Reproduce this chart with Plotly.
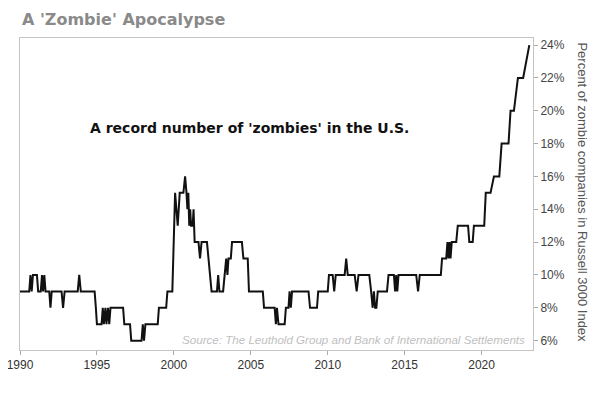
import plotly.graph_objects as go

# Decimal-year positions and percent of zombie companies
years = [
    1990.0, 1990.6, 1990.68, 1990.76, 1990.84, 1991.1, 1991.18, 1991.35, 1991.43, 1991.5,
    1991.58, 1991.66, 1991.9, 1991.98, 1992.06, 1992.7, 1992.8, 1992.9, 1993.75, 1993.85,
    1993.95, 1994.85, 1994.93, 1995.0, 1995.3, 1995.38, 1995.45, 1995.55, 1995.62, 1995.72,
    1995.8, 1995.88, 1996.7, 1996.78, 1997.15, 1997.23, 1997.9, 1997.98, 1998.06, 1998.15,
    1998.95, 1999.03, 1999.5, 1999.58, 1999.9, 2000.08, 2000.25, 2000.38, 2000.62, 2000.73,
    2000.82, 2000.88, 2000.94, 2001.0, 2001.06, 2001.12, 2001.22, 2001.28, 2001.35, 2001.6,
    2001.7, 2001.8, 2002.15, 2002.25, 2002.35, 2002.45, 2002.8, 2002.88, 2002.96, 2003.2,
    2003.3, 2003.4, 2003.48, 2003.55, 2003.7, 2003.78, 2004.42, 2004.52, 2004.8, 2004.88,
    2005.78, 2005.86, 2006.55, 2006.63, 2006.7, 2006.8, 2007.2, 2007.28, 2007.45, 2007.52,
    2007.6, 2007.68, 2008.75, 2008.85, 2009.3, 2009.38, 2010.0, 2010.08, 2010.32, 2010.42,
    2010.52, 2011.1, 2011.2, 2011.3, 2011.75, 2011.88, 2012.0, 2012.7, 2012.82, 2012.92,
    2013.0, 2013.08, 2013.16, 2013.25, 2013.85, 2013.95, 2014.3, 2014.38, 2014.45, 2014.52,
    2014.6, 2015.75, 2015.87, 2015.98, 2017.35, 2017.43, 2017.7, 2017.78, 2017.85, 2017.92,
    2017.98, 2018.06, 2018.35, 2018.45, 2019.12, 2019.2, 2019.42, 2019.5, 2020.17, 2020.27,
    2020.58, 2020.8, 2021.15, 2021.3, 2021.75, 2021.88, 2022.1, 2022.36, 2022.7, 2022.9,
    2023.1,
]
pct = [
    9, 9, 10, 9, 10, 10, 9, 9, 10, 9,
    10, 9, 9, 8, 9, 9, 8, 9, 9, 10,
    9, 9, 8, 7, 7, 8, 7, 8, 7, 8,
    7, 8, 8, 7, 7, 6, 6, 7, 6, 7,
    7, 8, 8, 9, 9, 15, 13, 15, 15, 16,
    15, 14, 15, 13, 14, 13, 13, 14, 12, 12,
    11, 12, 12, 11, 10, 9, 9, 10, 9, 9,
    10, 11, 10, 11, 11, 12, 12, 11, 11, 9,
    9, 8, 8, 7, 8, 7, 7, 8, 8, 9,
    8, 9, 9, 8, 8, 9, 9, 10, 10, 9,
    10, 10, 11, 10, 10, 9, 10, 10, 9, 8,
    9, 8, 8, 9, 9, 10, 10, 9, 10, 9,
    10, 10, 9, 10, 10, 11, 11, 12, 11, 12,
    11, 12, 12, 13, 13, 12, 12, 13, 13, 15,
    15, 16, 16, 18, 18, 20, 20, 22, 22, 23,
    24,
]

x_ticks = [1990, 1995, 2000, 2005, 2010, 2015, 2020]
y_ticks = [6, 8, 10, 12, 14, 16, 18, 20, 22, 24]

title_text = "A 'Zombie' Apocalypse"
note_text = "A record number of 'zombies' in the U.S."
source_text = "Source: The Leuthold Group and Bank of International Settlements"
y_title = "Percent of zombie companies in Russell 3000 Index"

fig = go.Figure()
fig.add_trace(go.Scatter(
    x=years, y=pct, mode="lines",
    line=dict(color="#111111", width=2),
    hoverinfo="skip", showlegend=False,
))

# The page body adds an 8px offset, so the figure is 592x391 to fill the window.
fig.update_layout(
    width=592, height=391,
    margin=dict(l=12, r=67, t=30, b=49, autoexpand=False),
    paper_bgcolor="white", plot_bgcolor="white",
    font=dict(family="Liberation Sans, Arial, sans-serif", color="#333"),
    xaxis=dict(
        range=[1990, 2023.34], tickvals=x_ticks, ticktext=[str(v) for v in x_ticks],
        showgrid=False, zeroline=False, automargin=False,
        ticklabeloverflow="allow",
        showline=True, mirror=True, linecolor="#c4c4c4", linewidth=1,
        ticks="outside", ticklen=4, tickcolor="#aaaaaa",
        tickfont=dict(size=12, color="#333333"),
    ),
    yaxis=dict(
        side="right", range=[5.43, 24.43], tickvals=y_ticks,
        ticktext=[f"{v}%" for v in y_ticks],
        showgrid=False, zeroline=False, automargin=False,
        showline=True, mirror=True, linecolor="#c4c4c4", linewidth=1,
        ticks="outside", ticklen=4, tickcolor="#aaaaaa",
        tickfont=dict(size=12, color="#444444"),
    ),
    annotations=[
        dict(text=f"<b>{title_text}</b>", xref="paper", yref="paper",
             x=0.0, y=1.058, xanchor="left", yanchor="middle", showarrow=False,
             font=dict(family="DejaVu Sans, Verdana, sans-serif", size=16, color="#8a8a8a")),
        dict(text=f"<b>{note_text}</b>", xref="paper", yref="paper",
             x=0.448, y=0.71, xanchor="center", yanchor="middle", showarrow=False,
             font=dict(family="DejaVu Sans, Verdana, sans-serif", size=14, color="#111111")),
        dict(text=f"<i>{source_text}</i>", xref="paper", yref="paper",
             x=0.988, y=0.035, xanchor="right", yanchor="middle", showarrow=False,
             font=dict(family="Liberation Sans, Arial, sans-serif", size=11.6, color="#c0c0c0")),
        dict(text=y_title, xref="paper", yref="paper",
             x=1.0975, y=0.505, xanchor="center", yanchor="middle", showarrow=False,
             textangle=90,
             font=dict(family="Liberation Sans, Arial, sans-serif", size=13, color="#555555")),
    ],
)

fig.write_html("out.html")
